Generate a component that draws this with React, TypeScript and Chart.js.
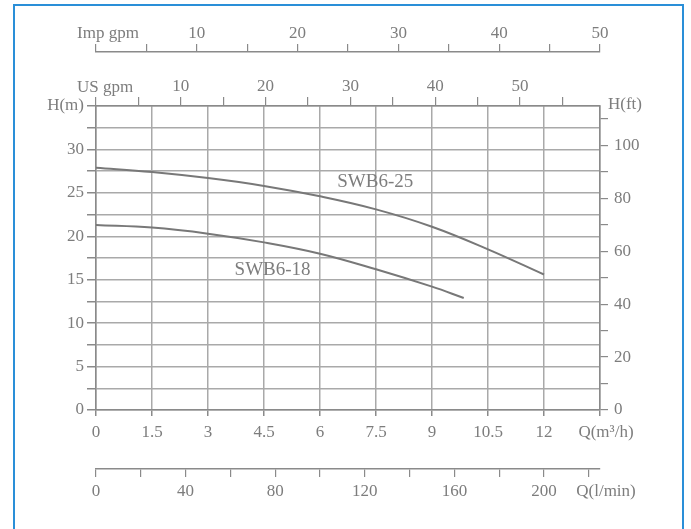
import React, { useEffect, useRef } from "react";
import { Chart, registerables } from "chart.js";

Chart.register(...registerables);

// ---- data ----
const flowSWB625 = [0, 1.5, 3, 4.5, 6, 7.5, 9, 10.5, 12];
const headSWB625 = [27.9, 27.4, 26.7, 25.8, 24.6, 23.1, 21.1, 18.5, 15.6];
const flowSWB618 = [0, 1.5, 3, 4.5, 6, 7.5, 9, 9.85];
const headSWB618 = [21.3, 21.0, 20.3, 19.3, 18.0, 16.2, 14.2, 12.9];

const qTicks = [0, 1.5, 3, 4.5, 6, 7.5, 9, 10.5, 12, 13.5];
const qLabels = ["0", "1.5", "3", "4.5", "6", "7.5", "9", "10.5", "12", ""];
const hTicks = [0, 2.5, 5, 7.5, 10, 12.5, 15, 17.5, 20, 22.5, 25, 27.5, 30, 32.5, 35];
const hLabels = ["0", "", "5", "", "10", "", "15", "", "20", "", "25", "", "30", "", "H(m)"];
const ftTicks = [0, 10, 20, 30, 40, 50, 60, 70, 80, 90, 100, 110];
const ftLabels = ["0", "", "20", "", "40", "", "60", "", "80", "", "100", ""];
const usTicks = [0, 5, 10, 15, 20, 25, 30, 35, 40, 45, 50, 55];
const usLabels = ["", "", "10", "", "20", "", "30", "", "40", "", "50", ""];
const impTicks = [0, 5, 10, 15, 20, 25, 30, 35, 40, 45, 50];
const impLabels = ["", "", "10", "", "20", "", "30", "", "40", "", "50"];
const lminTicks = [0, 20, 40, 60, 80, 100, 120, 140, 160, 180, 200, 220];
const lminLabels = ["0", "", "40", "", "80", "", "120", "", "160", "", "200", ""];

const curveNames = ["SWB6-25", "SWB6-18"];
const curveLabelQ = [7.48, 4.73];
const curveLabelH = [26.25, 16.1];

const Q_MAX = 13.5;
const H_MAX = 35;
const FT_MAX = H_MAX / 0.3048;
const US_MAX = Q_MAX * 4.4029;
const IMP_MAX = 50;
const LMIN_MAX = 225;

const GRID = "#a9a9a9";
const AXIS = "#8a8a8a";
const TEXT = "#7d7d7d";
const CURVE = "#787878";
const FONT_FAMILY = "'Liberation Serif', 'Times New Roman', serif";

function lookup(ticks: number[], labels: string[]) {
  return (v: any) => {
    const i = ticks.findIndex((t) => Math.abs(t - Number(v)) < 1e-6);
    return i >= 0 ? labels[i] : "";
  };
}

function setTicks(values: number[]) {
  return (scale: any) => {
    scale.ticks = values.map((v) => ({ value: v }));
  };
}

const titlesPlugin = {
  id: "titles",
  afterDraw(chart: any) {
    const ctx = chart.ctx;
    const ca = chart.chartArea;
    const s = chart.scales;
    ctx.save();
    ctx.fillStyle = TEXT;
    ctx.font = `17px ${FONT_FAMILY}`;
    ctx.textBaseline = "middle";
    ctx.textAlign = "center";
    const impY = s.xImp.bottom - 18;
    const usY = s.xUS.bottom - 18;
    ctx.fillText("Imp gpm", ca.left + 12, impY);
    ctx.fillText("US gpm", ca.left + 9, usY);
    ctx.textAlign = "left";
    ctx.fillText("H(ft)", ca.right + 8, ca.top - 1);
    ctx.textAlign = "center";
    ctx.fillText("Q(m\u00B3/h)", ca.right + 6, s.x.top + 23);
    ctx.fillText("Q(l/min)", ca.right + 6, s.xL.top + 23);
    // curve names
    ctx.font = `19px ${FONT_FAMILY}`;
    for (let i = 0; i < curveNames.length; i++) {
      const px = s.x.getPixelForValue(curveLabelQ[i]);
      const py = s.y.getPixelForValue(curveLabelH[i]);
      ctx.fillText(curveNames[i], px, py);
    }
    ctx.restore();
  },
};

export default function App() {
  const ref = useRef<HTMLCanvasElement | null>(null);
  useEffect(() => {
    document.body.style.margin = "0";
    const font = { family: FONT_FAMILY, size: 17 };
    const chart = new Chart(ref.current as HTMLCanvasElement, {
      type: "line",
      data: {
        datasets: [
          {
            label: curveNames[0],
            data: flowSWB625.map((q, i) => ({ x: q, y: headSWB625[i] })),
            borderColor: CURVE,
            borderWidth: 2,
            pointRadius: 0,
            tension: 0.4,
            xAxisID: "x",
            yAxisID: "y",
          },
          {
            label: curveNames[1],
            data: flowSWB618.map((q, i) => ({ x: q, y: headSWB618[i] })),
            borderColor: CURVE,
            borderWidth: 2,
            pointRadius: 0,
            tension: 0.4,
            xAxisID: "x",
            yAxisID: "y",
          },
        ],
      },
      options: {
        animation: false,
        responsive: false,
        maintainAspectRatio: false,
        layout: { padding: { top: 10, left: 0, right: 0, bottom: 0 }, autoPadding: false },
        plugins: { legend: { display: false }, tooltip: { enabled: false } },
        scales: {
          x: {
            type: "linear",
            position: "bottom",
            weight: 0,
            min: 0,
            max: Q_MAX,
            afterBuildTicks: setTicks(qTicks),
            afterFit: (sc: any) => { sc.height = 59; },
            grid: { color: GRID, lineWidth: 1.5, tickLength: 6, tickColor: AXIS },
            border: { display: true, color: AXIS, width: 1.5 },
            ticks: { callback: lookup(qTicks, qLabels), color: TEXT, font, padding: 6, maxRotation: 0, autoSkip: false },
          },
          xL: {
            type: "linear",
            position: "bottom",
            weight: 1,
            min: 0,
            max: LMIN_MAX,
            afterBuildTicks: setTicks(lminTicks),
            afterFit: (sc: any) => { sc.height = 60; },
            grid: { drawOnChartArea: false, tickLength: 8, color: AXIS, lineWidth: 1.2 },
            border: { display: true, color: AXIS, width: 1.5 },
            ticks: { callback: lookup(lminTicks, lminLabels), color: TEXT, font, padding: 4, maxRotation: 0, autoSkip: false },
          },
          xUS: {
            type: "linear",
            position: "top",
            weight: 0,
            min: 0,
            max: US_MAX,
            afterBuildTicks: setTicks(usTicks),
            afterFit: (sc: any) => { sc.height = 54; },
            grid: { drawOnChartArea: false, tickLength: 9, color: AXIS, lineWidth: 1.2 },
            border: { display: true, color: AXIS, width: 1.5 },
            ticks: { callback: lookup(usTicks, usLabels), color: TEXT, font, padding: 0, maxRotation: 0, autoSkip: false },
          },
          xImp: {
            type: "linear",
            position: "top",
            weight: 1,
            min: 0,
            max: IMP_MAX,
            afterBuildTicks: setTicks(impTicks),
            afterFit: (sc: any) => { sc.height = 42; },
            grid: { drawOnChartArea: false, tickLength: 8, color: AXIS, lineWidth: 1.2 },
            border: { display: true, color: AXIS, width: 1.5 },
            ticks: { callback: lookup(impTicks, impLabels), color: TEXT, font, padding: 0, maxRotation: 0, autoSkip: false },
          },
          y: {
            type: "linear",
            position: "left",
            min: 0,
            max: H_MAX,
            afterBuildTicks: setTicks(hTicks),
            afterFit: (sc: any) => { sc.width = 96; },
            grid: { color: GRID, lineWidth: 1.5, tickLength: 9, tickColor: AXIS },
            border: { display: true, color: AXIS, width: 1.5 },
            ticks: { callback: lookup(hTicks, hLabels), color: TEXT, font, padding: 3, autoSkip: false },
          },
          yR: {
            type: "linear",
            position: "right",
            min: 0,
            max: FT_MAX,
            afterBuildTicks: setTicks(ftTicks),
            afterFit: (sc: any) => { sc.width = 91; },
            grid: { drawOnChartArea: false, tickLength: 8, color: AXIS, lineWidth: 1.2 },
            border: { display: true, color: AXIS, width: 1.5 },
            ticks: { callback: lookup(ftTicks, ftLabels), color: TEXT, font, padding: 6, autoSkip: false },
          },
        },
      } as any,
      plugins: [titlesPlugin],
    });
    return () => chart.destroy();
  }, []);

  return (
    <div style={{ position: "fixed", left: 0, top: 0, width: 691, height: 529, background: "#ffffff", overflow: "hidden" }}>
      <div
        style={{
          position: "absolute",
          left: 13,
          top: 4,
          width: 671,
          height: 600,
          border: "2px solid #2a8fd8",
          boxSizing: "border-box",
        }}
      />
      <canvas ref={ref} width={691} height={529} style={{ position: "absolute", left: 0, top: 0, width: 691, height: 529 }} />
    </div>
  );
}
